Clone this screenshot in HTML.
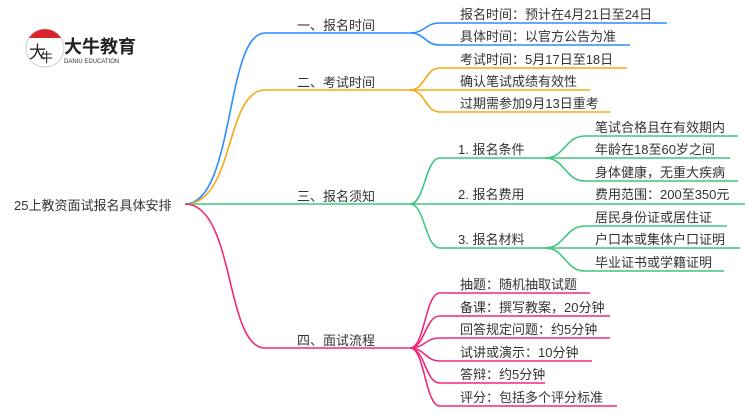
<!DOCTYPE html>
<html><head><meta charset="utf-8"><style>
body{margin:0;background:#fff}
svg text{font-family:"Liberation Sans","Noto Sans CJK SC",sans-serif;fill:#333;font-size:13px}
</style></head><body>
<svg width="750" height="410" viewBox="0 0 750 410" xmlns="http://www.w3.org/2000/svg" fill="none" stroke-width="1.6">
<!-- logo -->
<circle cx="45" cy="48" r="19" fill="#fff" stroke="#ccc" stroke-width="1"/>
<path d="M29 38 A19 19 0 0 1 61 38 Z" fill="#d9262c" stroke="none"/>
<text x="29" y="58" style="font-size:17px;fill:#222">大</text>
<text x="40" y="62" style="font-size:13px;fill:#222">牛</text>
<text x="64" y="53" style="font-size:18px;font-weight:bold;fill:#222">大牛教育</text>
<text x="64" y="63" style="font-size:6px;fill:#333">DANIU EDUCATION</text>
<!-- root -->
<text x="14" y="210" style="font-size:13px">25上教资面试报名具体安排</text>
<!-- main branches -->
<path d="M185 204 C235 204 225 33 265 33 L410 33" stroke="#2f8cff"/>
<path d="M185 204 C235 204 225 90 265 90 L410 90" stroke="#f5a914"/>
<path d="M185 204 L410 204" stroke="#3ec77f"/>
<path d="M185 204 C235 204 225 348 265 348 L410 348" stroke="#f0287a"/>
<text x="297" y="30">一、报名时间</text>
<text x="297" y="87">二、考试时间</text>
<text x="297" y="201">三、报名须知</text>
<text x="297" y="345">四、面试流程</text>
<!-- branch 1 -->
<g stroke="#2f8cff">
<path d="M410 33 C425 33 425 23 440 23 L667 23"/>
<path d="M410 33 C425 33 425 45 440 45 L630 45"/>
</g>
<text x="460" y="19">报名时间：预计在4月21日至24日</text>
<text x="460" y="41">具体时间：以官方公告为准</text>
<!-- branch 2 -->
<g stroke="#f5a914">
<path d="M410 90 C425 90 425 68 440 68 L627 68"/>
<path d="M410 90 L590 90"/>
<path d="M410 90 C425 90 425 112 440 112 L610 112"/>
</g>
<text x="460" y="64">考试时间：5月17日至18日</text>
<text x="460" y="86">确认笔试成绩有效性</text>
<text x="460" y="108">过期需参加9月13日重考</text>
<!-- branch 3 -->
<g stroke="#3ec77f">
<path d="M410 204 C425 204 425 158 440 158 L545 158"/>
<path d="M410 204 L745 204"/>
<path d="M410 204 C425 204 425 248 440 248 L545 248"/>
<path d="M545 158 C565 158 565 136 585 136 L738 136"/>
<path d="M545 158 L730 158"/>
<path d="M545 158 C565 158 565 181 585 181 L738 181"/>
<path d="M545 248 C565 248 565 226 585 226 L727 226"/>
<path d="M545 248 L740 248"/>
<path d="M545 248 C565 248 565 271 585 271 L724 271"/>
</g>
<text x="458" y="154">1. 报名条件</text>
<text x="458" y="199">2. 报名费用</text>
<text x="458" y="244">3. 报名材料</text>
<text x="595" y="132">笔试合格且在有效期内</text>
<text x="595" y="154">年龄在18至60岁之间</text>
<text x="595" y="177">身体健康，无重大疾病</text>
<text x="595" y="199">费用范围：200至350元</text>
<text x="595" y="222">居民身份证或居住证</text>
<text x="595" y="244">户口本或集体户口证明</text>
<text x="595" y="267">毕业证书或学籍证明</text>
<!-- branch 4 -->
<g stroke="#f0287a">
<path d="M410 348 C425 348 425 293 440 293 L590 293"/>
<path d="M410 348 C425 348 425 316 440 316 L610 316"/>
<path d="M410 348 C425 348 425 338 440 338 L610 338"/>
<path d="M410 348 C425 348 425 361 440 361 L592 361"/>
<path d="M410 348 C425 348 425 383 440 383 L545 383"/>
<path d="M410 348 C425 348 425 406 440 406 L617 406"/>
</g>
<text x="460" y="289">抽题：随机抽取试题</text>
<text x="460" y="312">备课：撰写教案，20分钟</text>
<text x="460" y="334">回答规定问题：约5分钟</text>
<text x="460" y="357">试讲或演示：10分钟</text>
<text x="460" y="379">答辩：约5分钟</text>
<text x="460" y="402">评分：包括多个评分标准</text>
</svg>
</body></html>
